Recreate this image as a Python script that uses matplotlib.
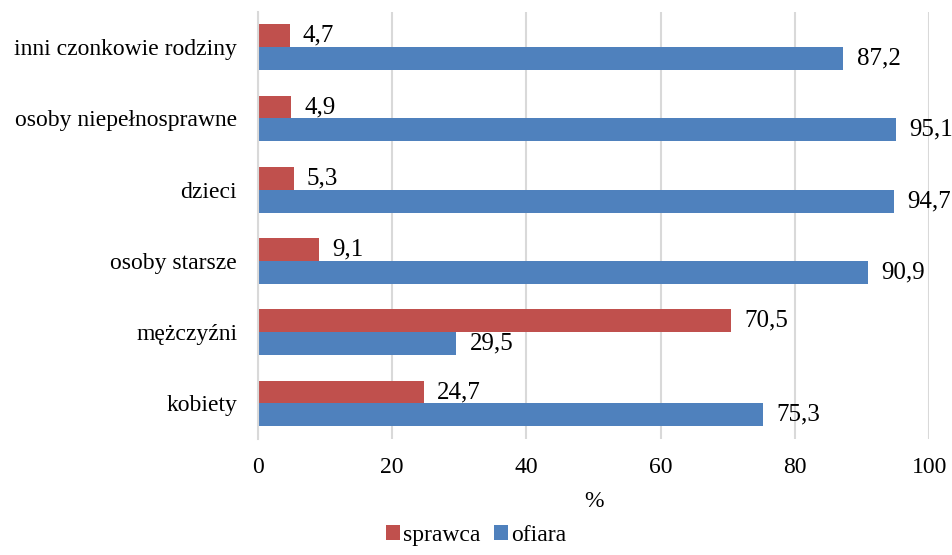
import matplotlib.pyplot as plt
import numpy as np

plt.rcParams['font.family'] = ['Liberation Serif', 'DejaVu Serif']

categories = ["kobiety", "mężczyźni", "osoby starsze", "dzieci",
              "osoby niepełnosprawne", "inni czonkowie rodziny"]
sprawca = [24.7, 70.5, 9.1, 5.3, 4.9, 4.7]
ofiara = [75.3, 29.5, 90.9, 94.7, 95.1, 87.2]

red = "#C0504D"
blue = "#4F81BD"

fig = plt.figure(figsize=(9.52, 5.55), dpi=100)
ax = fig.add_axes([0.271, 0.209, 0.705, 0.770])

y = np.arange(len(categories))
h = 0.32
b1 = ax.barh(y + h / 2, sprawca, height=h, color=red, label="sprawca")
b2 = ax.barh(y - h / 2, ofiara, height=h, color=blue, label="ofiara")

for bars, vals in ((b1, sprawca), (b2, ofiara)):
    for bar, v in zip(bars, vals):
        ax.text(v + 2.0, bar.get_y() + bar.get_height() / 2,
                f"{v:.1f}".replace(".", ","), va="center", ha="left",
                fontsize=18)

ax.set_xlim(0, 100)
ax.set_ylim(-0.5, len(categories) - 0.5)
ax.set_xticks(range(0, 101, 20))
ax.set_yticks(y)
ax.set_yticklabels(categories)
ax.tick_params(axis="both", length=0, labelsize=17)
ax.tick_params(axis="x", pad=13)
ax.tick_params(axis="y", pad=15)
ax.grid(axis="x", color="#D9D9D9", linewidth=1.5)
ax.set_axisbelow(True)
for s in ("top", "right", "bottom"):
    ax.spines[s].set_visible(False)
ax.spines["left"].set_color("#D9D9D9")
ax.spines["left"].set_linewidth(1.5)
ax.set_xlabel("%", fontsize=17, labelpad=9)

fig.legend(handles=[b1, b2], loc="lower center", ncol=2, frameon=False,
           fontsize=17, handlelength=0.6, handleheight=0.6,
           handletextpad=0.1, columnspacing=0.6,
           bbox_to_anchor=(0.5, -0.022))

fig.savefig("out.png", dpi=100)
